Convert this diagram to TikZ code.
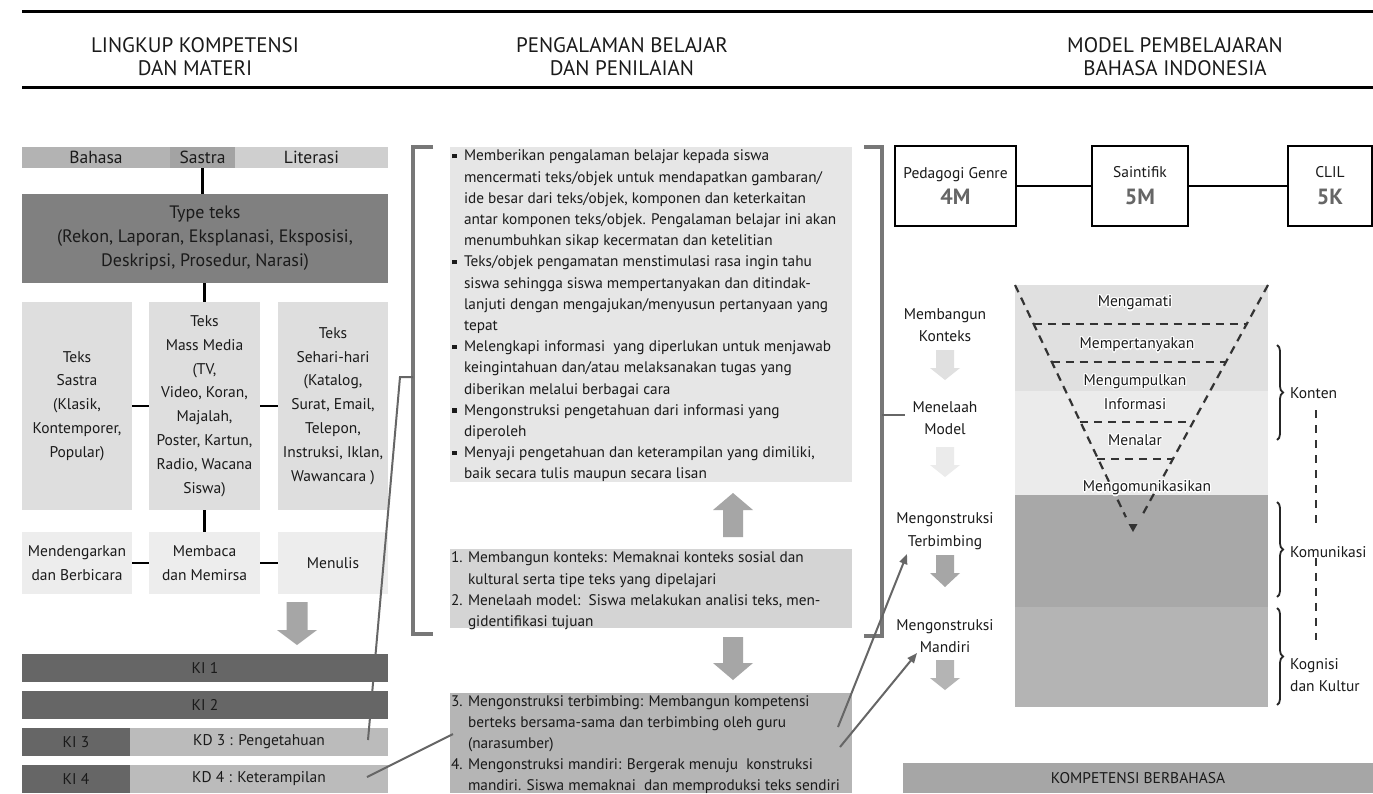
\documentclass[tikz,border=0pt]{standalone}
\usepackage{fontspec}
\setmainfont{PT Sans}
\usetikzlibrary{arrows.meta,decorations.pathreplacing,calc}
\definecolor{cBahasa}{HTML}{B3B3B3}
\definecolor{cSastra}{HTML}{A3A3A3}
\definecolor{cLit}{HTML}{CFCFCF}
\definecolor{cType}{HTML}{808080}
\definecolor{cTeks}{HTML}{DEDEDE}
\definecolor{cSkill}{HTML}{EDEDED}
\definecolor{cKI}{HTML}{666666}
\definecolor{cKD}{HTML}{BBBBBB}
\definecolor{cArrow}{HTML}{A6A6A6}
\definecolor{cBoxA}{HTML}{E6E6E6}
\definecolor{cBoxB}{HTML}{D4D4D4}
\definecolor{cBoxC}{HTML}{B5B5B5}
\definecolor{cBrk}{HTML}{777777}
\definecolor{cF1}{HTML}{E0E0E0}
\definecolor{cF2}{HTML}{EBEBEB}
\definecolor{cF3}{HTML}{A8A8A8}
\definecolor{cF4}{HTML}{B4B4B4}
\definecolor{cKomp}{HTML}{A6A6A6}
\definecolor{cTxt}{HTML}{1A1A1A}
\definecolor{cBigM}{HTML}{666666}
\newcommand\lft{\fontsize{15.5}{23.8}\selectfont}
\newcommand\typef{\fontsize{18}{24}\selectfont}
\newcommand\barf{\fontsize{17.5}{20}\selectfont}
\newcommand\midf{\fontsize{15.3}{21.2}\selectfont}
\newcommand\hdf{\fontsize{21}{23}\selectfont}
\newcommand\bigM{\fontsize{22}{24}\selectfont\bfseries\color{cBigM}}
\newcommand\bul{\makebox[12pt][l]{\raisebox{2.4pt}{\rule{4.5pt}{4.5pt}}}}
\newcommand\ind{\hspace*{12pt}}
\newcommand\numi[1]{\makebox[17pt][l]{#1}}
\newcommand\indn{\hspace*{17pt}}
% block arrow: x, start, headstart, tip, shaft width, head width, colour
\newcommand\blockarr[7]{\fill[#7] (#1-#5/2,#2) -- (#1+#5/2,#2) -- (#1+#5/2,#3) -- (#1+#6/2,#3) -- (#1,#4) -- (#1-#6/2,#3) -- (#1-#5/2,#3) -- cycle;}
\tikzset{
  box/.style={draw=none, inner sep=0pt, outer sep=0pt, align=center, anchor=north west, text=cTxt, font=\lft},
  txt/.style={inner sep=0pt, outer sep=0pt, align=left, anchor=north west, text=cTxt, font=\midf},
  conn/.style={line width=2.4pt, draw=black},
  gconn/.style={line width=2pt, draw=cKI},
  brk/.style={line width=4pt, draw=cBrk},
  mbox/.style={draw=black, line width=2.2pt, fill=white, inner sep=0pt, outer sep=0pt, align=center, anchor=north west, text=cTxt, font=\lft},
  stg/.style={inner sep=0pt, align=center, text=cTxt, font=\fontsize{15.5}{22.5}\selectfont},
  fnl/.style={inner sep=0pt, align=center, text=cTxt, font=\fontsize{15.5}{24}\selectfont},
  fdash/.style={line width=2.2pt, draw=black!80, dash pattern=on 8pt off 6pt},
  brace/.style={decorate, decoration={brace, amplitude=6pt}, line width=1.8pt, draw=black!85},
  hdr/.style={inner sep=0pt, align=center, text=cTxt, font=\hdf},
}
\newcommand\halo[3]{%
  \foreach \dx/\dy in {-1.3/0,1.3/0,0/-1.3,0/1.3,-0.9/-0.9,0.9/0.9,-0.9/0.9,0.9/-0.9}{%
    \node[fnl, text=white, xshift=\dx pt, yshift=\dy pt] at (#2) {#3};}
  \node[fnl] (#1) at (#2) {#3};}
\begin{document}
\begin{tikzpicture}[x=1pt,y=-1pt]
\useasboundingbox (0,0) rectangle (1373,793);
\fill[white] (0,0) rectangle (1373,793);
% header
\draw[line width=3pt] (22,11) -- (1373,11);
\draw[line width=3pt] (22,87) -- (1373,87);
\node[hdr] (h1) at (195,57) {LINGKUP KOMPETENSI\\DAN MATERI};
\node[hdr] (h2) at (622,57) {PENGALAMAN BELAJAR\\DAN PENILAIAN};
\node[hdr] (h3) at (1175,57) {MODEL PEMBELAJARAN\\BAHASA INDONESIA};
% ---------------- left column
\node[box, font=\barf, fill=cBahasa, minimum width=148pt, minimum height=21pt] (bahasa) at (22,147) {Bahasa};
\node[box, font=\barf, fill=cSastra, minimum width=65pt, minimum height=21pt] (sastra) at (170,147) {Sastra};
\node[box, font=\barf, fill=cLit, minimum width=153pt, minimum height=21pt] (literasi) at (235,147) {Literasi};
\node[box, font=\typef, fill=cType, minimum width=366pt, minimum height=89pt] (type) at (22,194) {Type teks\\(Rekon, Laporan, Eksplanasi, Eksposisi,\\Deskripsi, Prosedur, Narasi)};
\node[box, fill=cTeks, minimum width=110pt, minimum height=208pt] (tsastra) at (22,302) {Teks\\Sastra\\(Klasik,\\Kontemporer,\\Popular)};
\node[box, fill=cTeks, minimum width=111pt, minimum height=208pt] (tmedia) at (149,302) {Teks\\Mass Media\\(TV,\\Video, Koran,\\Majalah,\\Poster, Kartun,\\Radio, Wacana\\Siswa)};
\node[box, fill=cTeks, minimum width=110pt, minimum height=208pt] (tsehari) at (278,302) {Teks\\Sehari-hari\\(Katalog,\\Surat, Email,\\Telepon,\\Instruksi, Iklan,\\Wawancara )};
\node[box, fill=cSkill, minimum width=110pt, minimum height=62pt] (dengar) at (22,532) {Mendengarkan\\dan Berbicara};
\node[box, fill=cSkill, minimum width=111pt, minimum height=62pt] (baca) at (149,532) {Membaca\\dan Memirsa};
\node[box, fill=cSkill, minimum width=110pt, minimum height=62pt] (tulis) at (278,532) {Menulis};
\draw[conn] (sastra.south) -- (sastra.south |- type.north);
\draw[conn] (type.south -| tmedia.north) -- (tmedia.north);
\draw[conn] (tsastra.east) -- (tmedia.west);
\draw[conn] (tmedia.east) -- (tsehari.west);
\draw[conn] (tmedia.south) -- (baca.north);
\draw[conn] (dengar.east) -- (baca.west);
\draw[conn] (baca.east) -- (tulis.west);
\blockarr{297}{602}{630}{645}{21}{40}{cArrow}
\node[box, fill=cKI, minimum width=366pt, minimum height=28pt] (ki1) at (22,654) {KI 1};
\node[box, fill=cKI, minimum width=366pt, minimum height=28pt] (ki2) at (22,691) {KI 2};
\node[box, fill=cKI, minimum width=108pt, minimum height=28pt] (ki3) at (22,728) {KI 3};
\node[box, fill=cKD, minimum width=258pt, minimum height=28pt] (kd3) at (130,728) {KD 3 : Pengetahuan};
\node[box, fill=cKI, minimum width=108pt, minimum height=28pt] (ki4) at (22,765) {KI 4};
\node[box, fill=cKD, minimum width=258pt, minimum height=28pt] (kd4) at (130,765) {KD 4 : Keterampilan};
% ---------------- middle column
\node[box, fill=cBoxA, minimum width=402pt, minimum height=335pt] (boxa) at (450,147) {};
\node[box, fill=cBoxB, minimum width=402pt, minimum height=79pt] (boxb) at (450,549) {};
\node[box, fill=cBoxC, minimum width=402pt, minimum height=100pt] (boxc) at (450,693) {};
\node[txt] (ta) at (452,150) {\bul Memberikan pengalaman belajar kepada siswa\\
\ind mencermati teks/objek untuk mendapatkan gambaran/\\
\ind ide besar dari teks/objek, komponen dan keterkaitan\\
\ind antar komponen teks/objek. Pengalaman belajar ini akan\\
\ind menumbuhkan sikap kecermatan dan ketelitian\\
\bul Teks/objek pengamatan menstimulasi rasa ingin tahu\\
\ind siswa sehingga siswa mempertanyakan dan ditindak-\\
\ind lanjuti dengan mengajukan/menyusun pertanyaan yang\\
\ind tepat\\
\bul Melengkapi informasi\ \ yang diperlukan untuk menjawab\\
\ind keingintahuan dan/atau melaksanakan tugas yang\\
\ind diberikan melalui berbagai cara\\
\bul Mengonstruksi pengetahuan dari informasi yang\\
\ind diperoleh\\
\bul Menyaji pengetahuan dan keterampilan yang dimiliki,\\
\ind baik secara tulis maupun secara lisan};
\node[txt] (tb) at (451,552) {\numi{1.}Membangun konteks: Memaknai konteks sosial dan\\
\indn kultural serta tipe teks yang dipelajari\\
\numi{2.}Menelaah model:\ \ Siswa melakukan analisi teks, men-\\
\indn gidentifikasi tujuan};
\node[txt, font=\fontsize{15.3}{20.8}\selectfont] (tc) at (451,696) {\numi{3.}Mengonstruksi terbimbing: Membangun kompetensi\\
\indn berteks bersama-sama dan terbimbing oleh guru\\
\indn (narasumber)\\
\numi{4.}Mengonstruksi mandiri: Bergerak menuju\ \ konstruksi\\
\indn mandiri. Siswa memaknai\ \ dan memproduksi teks sendiri};
\blockarr{733}{537}{510}{493}{20}{40}{cArrow}
\blockarr{733}{637}{663}{680}{20}{40}{cArrow}
% brackets
\draw[brk] (433,147) -- (413,147) -- (413,634) -- (433,634);
\draw[brk] (864,147) -- (882,147) -- (882,636) -- (864,636);
\coordinate (brkL) at (413,377);
\coordinate (brkR) at (882,415);
\coordinate (brkRt) at (905,415);
\draw[gconn] (brkR) -- (brkRt);
% ---------------- right column
\node[mbox, minimum width=121pt, minimum height=80pt] (pg) at (895,146) {Pedagogi Genre\\[3pt]{\bigM 4M}};
\node[mbox, minimum width=96pt, minimum height=80pt] (sa) at (1092,146) {Saintifik\\[3pt]{\bigM 5M}};
\node[mbox, minimum width=84pt, minimum height=80pt] (cl) at (1288,146) {CLIL\\[3pt]{\bigM 5K}};
\draw[conn, line width=2.2pt] (pg.east) -- (sa.west);
\draw[conn, line width=2.2pt] (sa.east) -- (cl.west);
% funnel background
\fill[cF1] (1015,285) rectangle (1268,391);
\fill[cF2] (1015,391) rectangle (1268,495);
\fill[cF3] (1015,495) rectangle (1268,607);
\fill[cF4] (1015,607) rectangle (1268,707);
% funnel dashes
\coordinate (fl) at (1015,285);
\coordinate (fr) at (1268,285);
\coordinate (fa) at (1133,532);
\draw[fdash] (fl) -- ($(fl)!0.94!(fa)$);
\draw[fdash] (fr) -- ($(fr)!0.94!(fa)$);
\fill[black!80] (1128.5,524) -- (1137.5,524) -- (fa) -- cycle;
\draw[fdash] (1033.5,324) -- (1247,324);
\draw[fdash] (1051.5,362) -- (1226,362);
\draw[fdash] (1080,422) -- (1194,422);
\draw[fdash] (1097,459) -- (1174,459);
\halo{f1}{1135,303}{Mengamati}
\halo{f2}{1137,345}{Mempertanyakan}
\halo{f3}{1135,392}{Mengumpulkan\\Informasi}
\halo{f4}{1135,440}{Menalar}
\halo{f5}{1147,488}{Mengomunikasikan}
% stages
\node[stg] (s1) at (945,325) {Membangun\\Konteks};
\blockarr{945}{350}{368}{380}{18}{30}{cF1}
\node[stg] (s2) at (945,418) {Menelaah\\Model};
\blockarr{945}{447}{465}{477}{18}{30}{cF2}
\node[stg] (s3) at (945,531) {Mengonstruksi\\Terbimbing};
\blockarr{945}{555}{573}{587}{18}{30}{cArrow}
\node[stg] (s4) at (945,636) {Mengonstruksi\\Mandiri};
\blockarr{945}{660}{678}{690}{18}{30}{cF4}
% braces and labels
\draw[brace] (1277,345) -- (1277,440);
\draw[brace] (1277,502) -- (1277,597);
\draw[brace] (1277,608) -- (1277,705);
\node[stg, anchor=west] (konten) at (1290,393) {Konten};
\node[stg, anchor=west] (komu) at (1290,552) {Komunikasi};
\node[stg, anchor=west, align=left] (kogn) at (1290,675) {Kognisi\\dan Kultur};
\draw[fdash, dash pattern=on 8pt off 7pt, line width=2.4pt] (1316,410) -- (1316,525);
\draw[fdash, dash pattern=on 8pt off 7pt, line width=2.4pt] (komu.south -| 1316,0) -- (1316,640);
\node[box, fill=cKomp, minimum width=470pt, minimum height=30pt] (komp) at (903,763) {KOMPETENSI BERBAHASA};
% grey connectors
\coordinate (kd3p) at (368,740);
\coordinate (bend) at (400,377);
\draw[gconn] (kd3p) -- (bend) -- (brkL);
\coordinate (kd4p) at (367,777);
\coordinate (c3in) at (453,734);
\draw[gconn] (kd4p) -- (c3in);
\coordinate (c3a) at (838,727);
\coordinate (s3tip) at (907,554);
\coordinate (c3b) at (840,747);
\coordinate (s4tip) at (917,653);
\draw[gconn, -{Triangle[length=10pt,width=8pt]}] (c3a) -- (s3tip);
\draw[gconn, -{Triangle[length=10pt,width=8pt]}] (c3b) -- (s4tip);
\end{tikzpicture}
\end{document}
